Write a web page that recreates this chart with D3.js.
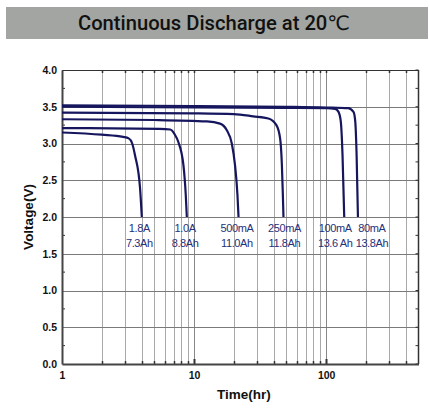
<!DOCTYPE html>
<html>
<head>
<meta charset="utf-8">
<script src="https://cdn.jsdelivr.net/npm/d3@7"></script>
<style>
  body { margin: 0; background: #fff; }
  svg { display: block; }
</style>
</head>
<body>
<svg width="429" height="413"></svg>
<script>
// discharge curves, hours vs volts
const seriesNames = ["1.8A", "1.0A", "500mA", "250mA", "100mA", "80mA"];
const capacities = ["7.3Ah", "8.8Ah", "11.0Ah", "11.8Ah", "13.6 Ah", "13.8Ah"];
const hours = [
  [1, 2, 2.9, 3.2, 3.4, 3.57, 3.9, 4.02],
  [1, 5.5, 6.6, 7.1, 7.6, 8.3, 8.65, 8.81],
  [1, 5, 12.5, 15.7, 17.7, 19.3, 20.4, 21.3, 21.7],
  [1, 10, 20, 28, 36.5, 42, 44.8, 46.2, 47, 47.5],
  [1, 10, 50, 100, 117, 124, 129, 133, 137],
  [1, 10, 50, 100, 147, 161, 166, 170, 174]
];
const volts = [
  [3.15, 3.12, 3.09, 3.07, 3.0, 2.84, 2.39, 2.0],
  [3.21, 3.20, 3.19, 3.13, 3.02, 2.71, 2.30, 2.0],
  [3.33, 3.32, 3.30, 3.27, 3.18, 3.0, 2.71, 2.30, 2.0],
  [3.42, 3.41, 3.40, 3.37, 3.34, 3.25, 3.07, 2.71, 2.30, 2.0],
  [3.50, 3.49, 3.485, 3.48, 3.47, 3.43, 3.30, 2.84, 2.0],
  [3.52, 3.51, 3.50, 3.49, 3.48, 3.43, 3.30, 2.84, 2.0]
];
// where each label sits along the time axis
const labelHours = [3.85, 8.55, 21.1, 48.3, 117, 222];
const xTickLabels = [1, 10, 100];
const yTicks = [0, 0.5, 1, 1.5, 2, 2.5, 3, 3.5, 4];

const svg = d3.select("svg");
const margin = {top: 70, left: 62, right: 10, bottom: 49};
const w = 429, h = 413;

const xScale = d3.scaleLog().domain([1, 500]).range([margin.left, w - margin.right - 0.5]);
const yScale = d3.scaleLinear().domain([0, 4]).range([h - margin.bottom, margin.top]);

// title bar
svg.append("rect")
  .attr("x", 6).attr("y", 7).attr("width", 422).attr("height", 32)
  .attr("fill", "#a2a5a1");
svg.append("text")
  .attr("x", 214).attr("y", 30)
  .attr("text-anchor", "middle")
  .attr("font-family", "Roboto, 'DejaVu Sans', sans-serif")
  .attr("font-size", 20)
  .attr("font-weight", 500)
  .attr("fill", "#111")
  .attr("textLength", 272)
  .attr("lengthAdjust", "spacingAndGlyphs")
  .text("Continuous Discharge at 20\u2103");

// minor log ticks for grid
const xMinor = [];
[1, 10, 100].forEach(d => { for (let k = 2; k <= 9; k++) if (d * k < 500) xMinor.push(d * k); });
xMinor.push(10, 100);

const grid = svg.append("g");
grid.selectAll("line.v")
  .data(xMinor)
  .enter().append("line")
  .attr("class", "v")
  .attr("x1", d => Math.round(xScale(d)) + 0.5).attr("x2", d => Math.round(xScale(d)) + 0.5)
  .attr("y1", yScale(4)).attr("y2", yScale(0))
  .attr("stroke", d => (d === 10 || d === 100) ? "#888" : "#a8a8a8")
  .attr("stroke-width", 1);
grid.selectAll("line.h")
  .data(yTicks.filter(d => d > 0 && d < 4))
  .enter().append("line")
  .attr("class", "h")
  .attr("x1", xScale(1)).attr("x2", xScale(500))
  .attr("y1", d => Math.round(yScale(d)) + 0.5).attr("y2", d => Math.round(yScale(d)) + 0.5)
  .attr("stroke", "#7a7a7a")
  .attr("stroke-width", 1);

// frame: top and right thin, left and bottom heavier
svg.append("line")
  .attr("x1", xScale(1)).attr("x2", xScale(500))
  .attr("y1", yScale(4) + 0.5).attr("y2", yScale(4) + 0.5)
  .attr("stroke", "#333").attr("stroke-width", 1);
svg.append("line")
  .attr("x1", xScale(500)).attr("x2", xScale(500))
  .attr("y1", yScale(4)).attr("y2", yScale(0))
  .attr("stroke", "#333").attr("stroke-width", 1.5);

// inward ticks on all four sides
const yMinor = d3.range(0, 4.01, 0.25);
svg.append("g").selectAll("line")
  .data(yMinor)
  .enter().append("line")
  .attr("x1", xScale(1)).attr("x2", d => xScale(1) + (d % 0.5 === 0 ? 0 : 3))
  .attr("y1", d => yScale(d)).attr("y2", d => yScale(d))
  .attr("stroke", "#333");
svg.append("g").selectAll("line")
  .data(yMinor)
  .enter().append("line")
  .attr("x1", xScale(500)).attr("x2", xScale(500) - 3)
  .attr("y1", d => yScale(d)).attr("y2", d => yScale(d))
  .attr("stroke", "#333");
svg.append("g").selectAll("line")
  .data(xMinor)
  .enter().append("line")
  .attr("x1", d => Math.round(xScale(d)) + 0.5).attr("x2", d => Math.round(xScale(d)) + 0.5)
  .attr("y1", yScale(0)).attr("y2", d => yScale(0) - ((d === 10 || d === 100) ? 5 : 3))
  .attr("stroke", "#333").attr("stroke-width", d => (d === 10 || d === 100) ? 2 : 1.5);
svg.append("g").selectAll("line")
  .data(xMinor)
  .enter().append("line")
  .attr("x1", d => Math.round(xScale(d)) + 0.5).attr("x2", d => Math.round(xScale(d)) + 0.5)
  .attr("y1", yScale(4)).attr("y2", yScale(4) + 3)
  .attr("stroke", "#333").attr("stroke-width", 1.5);

// axes
const xAxis = d3.axisBottom(xScale)
  .tickValues(xTickLabels)
  .tickFormat(d3.format("d"))
  .tickSize(0).tickPadding(8);
const yAxis = d3.axisLeft(yScale)
  .tickValues(yTicks)
  .tickFormat(d3.format(".1f"))
  .tickSize(0).tickPadding(5);

const gx = svg.append("g")
  .attr("transform", "translate(0," + yScale(0) + ")")
  .call(xAxis);
const gy = svg.append("g")
  .attr("transform", "translate(" + xScale(1) + ",0)")
  .call(yAxis);
[gx, gy].forEach(g => {
  g.select(".domain").attr("stroke", "#444").attr("stroke-width", 2);
  g.selectAll("text")
    .attr("font-family", "'Liberation Sans', Arial, sans-serif")
    .attr("font-weight", "bold")
    .attr("font-size", 10.5)
    .attr("fill", "#111");
});

// axis titles
svg.append("text")
  .attr("x", 244).attr("y", 399)
  .attr("text-anchor", "middle")
  .attr("font-family", "'Liberation Sans', Arial, sans-serif")
  .attr("font-weight", "bold").attr("font-size", 13.5)
  .attr("fill", "#111")
  .text("Time(hr)");
svg.append("text")
  .attr("transform", "translate(33,217) rotate(-90)")
  .attr("text-anchor", "middle")
  .attr("font-family", "'Liberation Sans', Arial, sans-serif")
  .attr("font-weight", "bold").attr("font-size", 13.5)
  .attr("fill", "#111")
  .text("Voltage(V)");

// curves
const line = d3.line()
  .x(d => xScale(d[0]))
  .y(d => yScale(d[1]))
  .curve(d3.curveMonotoneX);
svg.append("g").selectAll("path")
  .data(seriesNames.map((n, i) => hours[i].map((t, j) => [t, volts[i][j]])))
  .enter().append("path")
  .attr("d", line)
  .attr("fill", "none")
  .attr("stroke", "#16165e")
  .attr("stroke-width", 2.2);

// current / capacity labels
const labels = svg.append("g")
  .attr("font-family", "'Liberation Sans', Arial, sans-serif")
  .attr("font-size", 11)
  .attr("letter-spacing", -0.4)
  .attr("fill", "#26307a")
  .attr("text-anchor", "middle");
labels.selectAll("text.n")
  .data(seriesNames)
  .enter().append("text")
  .attr("class", "n")
  .attr("x", (d, i) => xScale(labelHours[i]))
  .attr("y", yScale(2) + 15)
  .text(d => d);
labels.selectAll("text.c")
  .data(capacities)
  .enter().append("text")
  .attr("class", "c")
  .attr("x", (d, i) => xScale(labelHours[i]))
  .attr("y", yScale(2) + 30)
  .text(d => d);
</script>
</body>
</html>
